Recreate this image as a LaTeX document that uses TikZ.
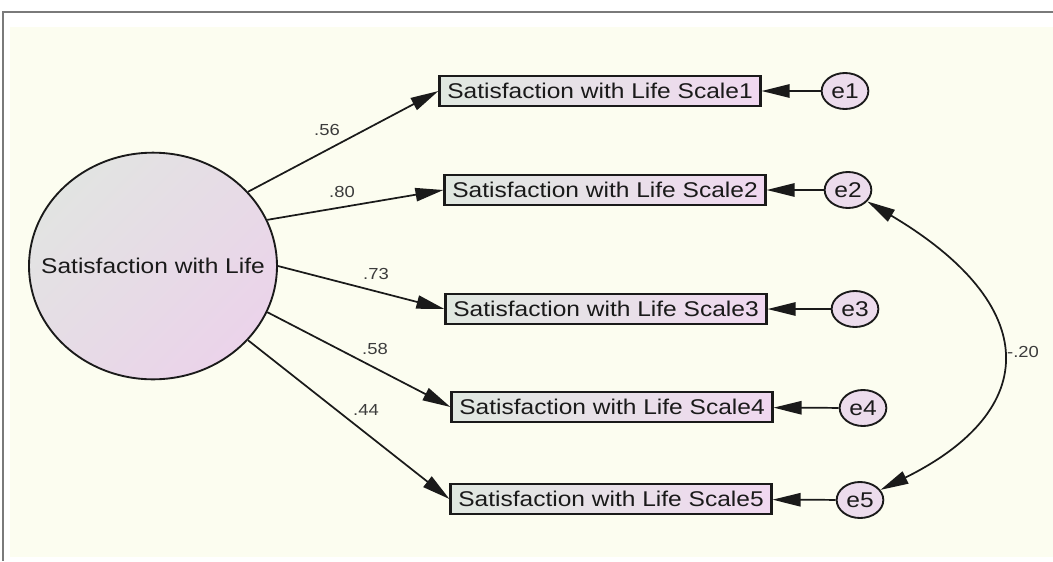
\documentclass[tikz,border=0pt]{standalone}
\usepackage{fontspec}
\setmainfont{Liberation Sans}[FakeStretch=1.15]
\usetikzlibrary{shapes.geometric,arrows.meta}
\definecolor{cream}{HTML}{FCFDF0}
\definecolor{boxl}{HTML}{E0E8E0}
\definecolor{boxr}{HTML}{F0D8F0}
\definecolor{circtl}{HTML}{E2E4E2}
\definecolor{circbr}{HTML}{EBD3EA}
\definecolor{errfill}{HTML}{ECDCEC}
\definecolor{ink}{HTML}{1A1A1A}
\definecolor{framegray}{HTML}{7A7A7A}
\tikzset{
  every node/.style={text=ink},
  latent/.style={ellipse, draw=ink, line width=1.4pt, minimum width=186pt, minimum height=170pt, inner sep=0pt,
    top color=circtl, bottom color=circbr, shading angle=45},
  latentlabel/.style={font=\fontsize{16}{18}\selectfont, inner sep=0pt},
  observed/.style={rectangle, draw=ink, line width=1.6pt, minimum width=240.75pt, minimum height=22.5pt, inner sep=0pt,
    left color=boxl, right color=boxr, font=\fontsize{16}{18}\selectfont},
  errnode/.style={ellipse, draw=ink, line width=1.4pt, minimum width=35pt, minimum height=27pt, inner sep=0pt,
    fill=errfill, font=\fontsize{16}{18}\selectfont},
  path/.style={draw=ink, line width=1.3pt, -{Triangle[length=21pt,width=10pt]}},
  cov/.style={draw=ink, line width=1.3pt, {Triangle[length=21pt,width=10pt]}-{Triangle[length=21pt,width=10pt]}},
  coef/.style={font=\fontsize{12}{14}\selectfont, text=ink!85},
}
\begin{document}
\begin{tikzpicture}[x=0.75pt,y=-0.75pt]
\useasboundingbox (0,0) rectangle (1053,561);
\fill[white] (0,0) rectangle (1053,561);
\fill[cream] (10,27) rectangle (1053,557);
\draw[framegray, line width=1pt] (1053,12) -- (3,12) -- (3,561);

\node[latent] (c) at (153,266) {};
\node[latentlabel] (ct) at (c.center) {Satisfaction with Life};

\node[observed] (b1) at (600,91) {Satisfaction with Life Scale1};
\node[observed] (b2) at (605,190) {Satisfaction with Life Scale2};
\node[observed] (b3) at (606,309) {Satisfaction with Life Scale3};
\node[observed] (b4) at (612,407) {Satisfaction with Life Scale4};
\node[observed] (b5) at (611,499) {Satisfaction with Life Scale5};

\node[errnode] (e1) at (845,91) {e1};
\node[errnode] (e2) at (848,190) {e2};
\node[errnode] (e3) at (855,309) {e3};
\node[errnode] (e4) at (863,408) {e4};
\node[errnode] (e5) at (860,500) {e5};

\draw[path] (c.38) -- (b1.west);
\draw[path] (c.22) -- (b2.west);
\draw[path] (c.0) -- (b3.west);
\draw[path] (c.-22) -- (b4.west);
\draw[path] (c.-38) -- (b5.west);

\draw[path] (e1) -- (b1);
\draw[path] (e2) -- (b2);
\draw[path] (e3) -- (b3);
\draw[path] (e4) -- (b4);
\draw[path] (e5) -- (b5);

\draw[cov] (e2) .. controls (1042,305) and (1042,410) .. (e5);

\node[coef] (l1) at (327,130) {.56};
\node[coef] (l2) at (342,192) {.80};
\node[coef] (l3) at (376,274) {.73};
\node[coef] (l4) at (375,349) {.58};
\node[coef] (l5) at (366,410) {.44};
\node[coef] (l6) at (1023,352) {-.20};
\end{tikzpicture}
\end{document}
